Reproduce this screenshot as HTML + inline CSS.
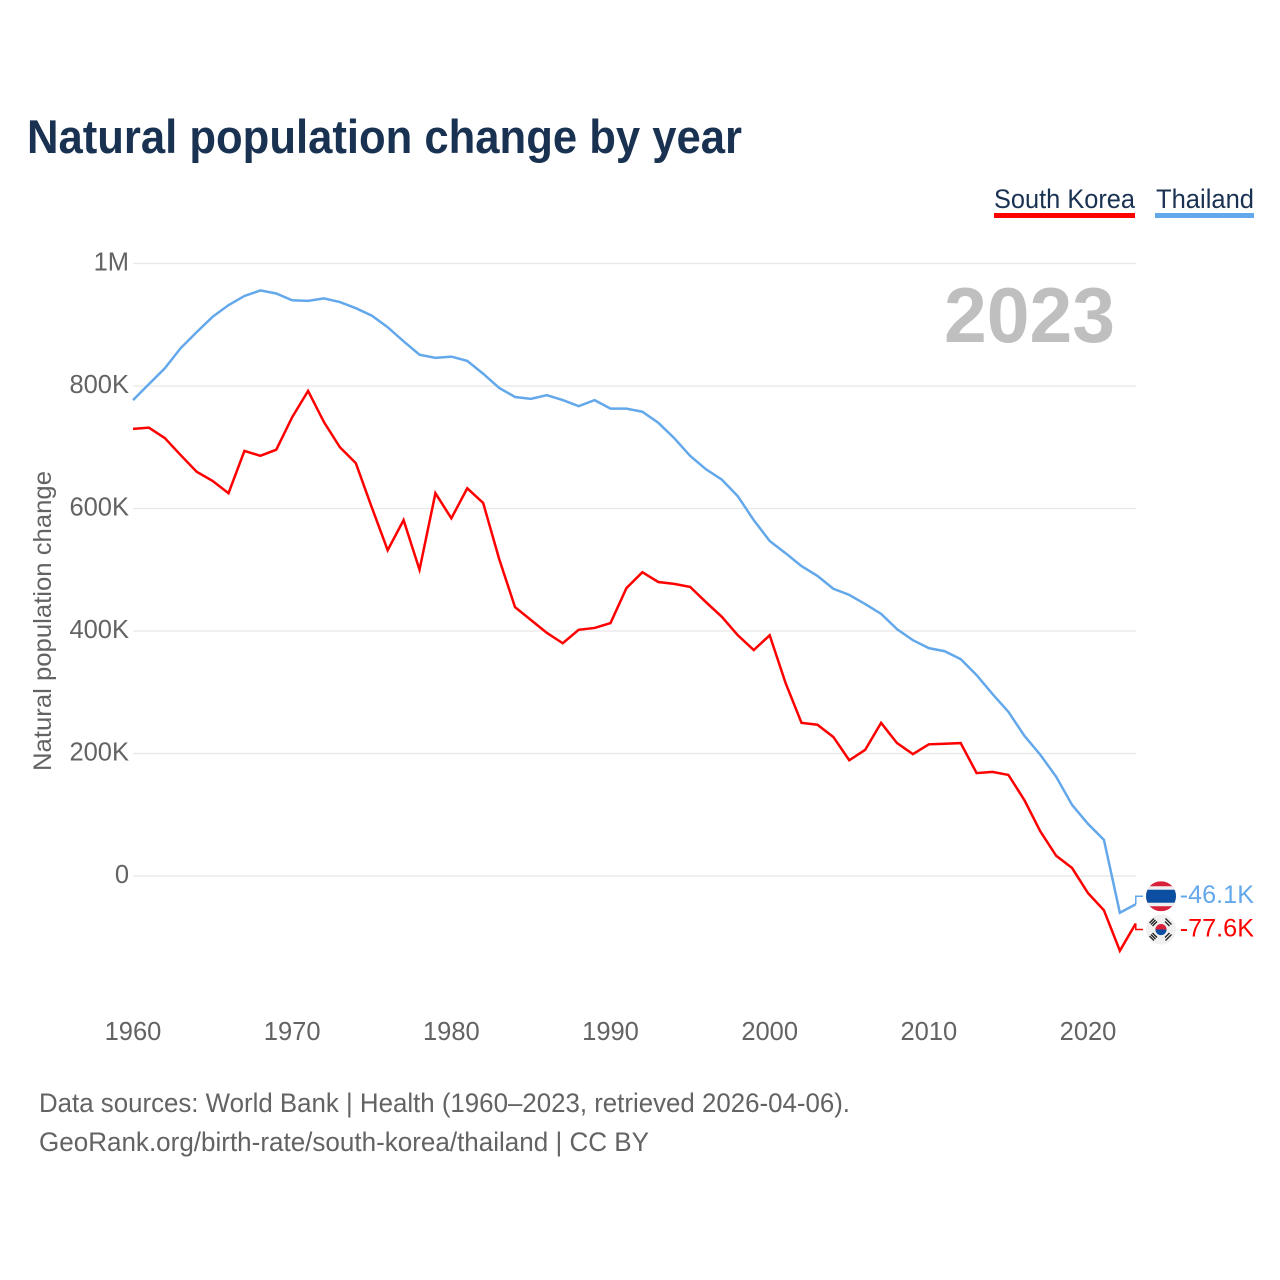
<!DOCTYPE html>
<html lang="en">
<head>
<meta charset="utf-8">
<title>Natural population change by year</title>
<style>
html,body{margin:0;padding:0;background:#fff;width:1280px;height:1280px;overflow:hidden}
svg{display:block;font-family:"Liberation Sans",sans-serif}
</style>
</head>
<body>
<svg id="chart" width="1280" height="1280" viewBox="0 0 1280 1280" xmlns="http://www.w3.org/2000/svg">
  <defs>
    <clipPath id="clip-th"><circle cx="1161" cy="0" r="15"/></clipPath>
    <clipPath id="clip-kr"><circle cx="1161" cy="0" r="15"/></clipPath>
  </defs>
  <text x="27" y="153" font-size="47" font-weight="700" fill="#1a3252" textLength="715" lengthAdjust="spacingAndGlyphs">Natural population change by year</text>

  <g>
    <text x="994" y="208" font-size="27" fill="#1a3252" textLength="141" lengthAdjust="spacingAndGlyphs">South Korea</text>
    <rect x="994" y="213" width="141" height="5" fill="#ff0000"/>
  </g>
  <g>
    <text x="1156" y="208" font-size="27" fill="#1a3252" textLength="98" lengthAdjust="spacingAndGlyphs">Thailand</text>
    <rect x="1155" y="213" width="99" height="5" fill="#63a8ea"/>
  </g>

  <g id="grid"></g>
  <g id="yticks"></g>
  <g id="xticks"></g>

  <text transform="translate(51 771) rotate(-90)" font-size="25" fill="#636363" textLength="300" lengthAdjust="spacingAndGlyphs">Natural population change</text>
  <text x="944" y="342" font-size="78" font-weight="700" fill="#bfbfbf" textLength="171" lengthAdjust="spacingAndGlyphs">2023</text>

  <g id="series"></g>

  <g id="flag-th">
    <g clip-path="url(#clip-th)">
      <rect x="1146" y="-15" width="30" height="30" fill="#d8203a"/>
      <rect x="1146" y="-10" width="30" height="20" fill="#f0f0f0"/>
      <rect x="1146" y="-6.5" width="30" height="13" fill="#0b4ea2"/>
    </g>
  </g>
  <g id="flag-kr">
    <g clip-path="url(#clip-kr)">
      <rect x="1146" y="-15" width="30" height="30" fill="#f0f0f0"/>
    </g>
    <path d="M1155.4 0a5.6 5.6 0 0 1 11.2 0z" fill="#d8203a"/>
    <path d="M1155.4 0a5.6 5.6 0 0 0 11.2 0z" fill="#0b4ea2"/>
    <g stroke="#222" stroke-width="1.4" fill="none">
      <path d="M1149.5 -6.5l4.5 -4.5M1151 -5l4.5 -4.5M1152.5 -3.5l4.5 -4.5"/>
      <path d="M1165.5 -11l4.5 4.5M1167 -9.5l4.5 4.5M1165 -8l4.5 4.5"/>
      <path d="M1149.5 6.5l4.5 4.5M1151 5l4.5 4.5M1152.5 3.5l4.5 4.5"/>
      <path d="M1165.5 11l4.5 -4.5M1167 9.5l4.5 -4.5M1165 8l4.5 -4.5"/>
    </g>
  </g>

  <text x="39" y="1112" font-size="27" fill="#636363" textLength="811" lengthAdjust="spacingAndGlyphs">Data sources: World Bank | Health (1960–2023, retrieved 2026-04-06).</text>
  <text x="39" y="1151" font-size="27" fill="#636363" textLength="610" lengthAdjust="spacingAndGlyphs">GeoRank.org/birth-rate/south-korea/thailand | CC BY</text>
</svg>
<script>
const startYear = 1960;
const southKorea = [730,732,715,687,660,645,625,694,686,696,749,792,741,700,674,602,532,581,500,625,584,633,609,518,439,418,397,380,402,405,413,470,496,480,477,472,447,423,393,369,393,315,250,247,227,189,206,250,217,199,215,216,217,168,170,165,124,73,33,13,-28,-56,-122,-77.6];
const thailand = [777,803,829,862,888,913,932,947,956,951,940,939,943,937,927,915,896,873,851,846,848,841,820,797,782,779,785,777,767,777,763,763,758,740,715,686,664,647,620,581,547,527,506,490,469,459,444,428,403,385,372,367,354,328,297,268,229,198,162,116,85,59,-60,-46.1];
const yTickValues = [0,200,400,600,800,1000];
const yTickLabels = ['0','200K','400K','600K','800K','1M'];
const xTickYears = [1960,1970,1980,1990,2000,2010,2020];

const NS = 'http://www.w3.org/2000/svg';
const xScale = function (year) { return 133 + (year - 1960) * 15.917; };
const yScale = function (k) { return 876 - k * 0.6125; };
const formatK = function (k) { return k.toFixed(1) + 'K'; };

function make(tag, parent, attrs, text) {
  const el = document.createElementNS(NS, tag);
  Object.keys(attrs).forEach(function (k) { el.setAttribute(k, attrs[k]); });
  if (text !== undefined) el.textContent = text;
  parent.appendChild(el);
  return el;
}

const grid = document.getElementById('grid');
const yticks = document.getElementById('yticks');
yTickValues.forEach(function (v, i) {
  const line = make('line', grid, { x1: 133, x2: 1136, y1: yScale(v), y2: yScale(v), stroke: '#e8e8e8', 'stroke-width': 1.3 });
  
  
  const label = make('text', yticks, { x: 129, y: yScale(v) + 7, 'text-anchor': 'end', 'font-size': 25.5, fill: '#636363' }, yTickLabels[i]);
  
  
});

const xticks = document.getElementById('xticks');
xTickYears.forEach(function (yr) {
  const label = make('text', xticks, { x: xScale(yr), y: 1040, 'text-anchor': 'middle', 'font-size': 25.5, fill: '#636363' }, String(yr));
  
  
});

function linePoints(values) {
  return values.map(function (v, i) {
    return xScale(startYear + i).toFixed(2) + ',' + yScale(v).toFixed(2);
  }).join(' ');
}

const seriesGroup = document.getElementById('series');

const krLine = make('polyline', seriesGroup, { points: linePoints(southKorea), fill: 'none', stroke: '#ff0000', 'stroke-width': 2.5, 'stroke-linejoin': 'miter' });



const thLine = make('polyline', seriesGroup, { points: linePoints(thailand), fill: 'none', stroke: '#63a8ea', 'stroke-width': 2.5, 'stroke-linejoin': 'miter' });



const endX = xScale(startYear + thailand.length - 1);
const thEnd = yScale(thailand[thailand.length - 1]);
const krEnd = yScale(southKorea[southKorea.length - 1]);
const thLabelY = thEnd - 8;
const krLabelY = krEnd + 6;

const thLink = make('polyline', seriesGroup, { points: endX + ',' + thEnd + ' ' + endX + ',' + thLabelY + ' 1143,' + thLabelY, fill: 'none', stroke: '#63a8ea', 'stroke-width': 1.5 });



const krLink = make('polyline', seriesGroup, { points: endX + ',' + krEnd + ' ' + endX + ',' + krLabelY + ' 1143,' + krLabelY, fill: 'none', stroke: '#ff0000', 'stroke-width': 1.5 });



document.getElementById('flag-th').setAttribute('transform', 'translate(0 ' + thLabelY + ')');
document.getElementById('flag-kr').setAttribute('transform', 'translate(0 ' + krLabelY + ')');

const thValue = make('text', seriesGroup, { x: 1254, y: thLabelY + 7, 'text-anchor': 'end', 'font-size': 25.2, fill: '#63a8ea' }, formatK(thailand[thailand.length - 1]));



const krValue = make('text', seriesGroup, { x: 1254, y: krLabelY + 7, 'text-anchor': 'end', 'font-size': 25.2, fill: '#ff0000' }, formatK(southKorea[southKorea.length - 1]));


</script>
</body>
</html>
